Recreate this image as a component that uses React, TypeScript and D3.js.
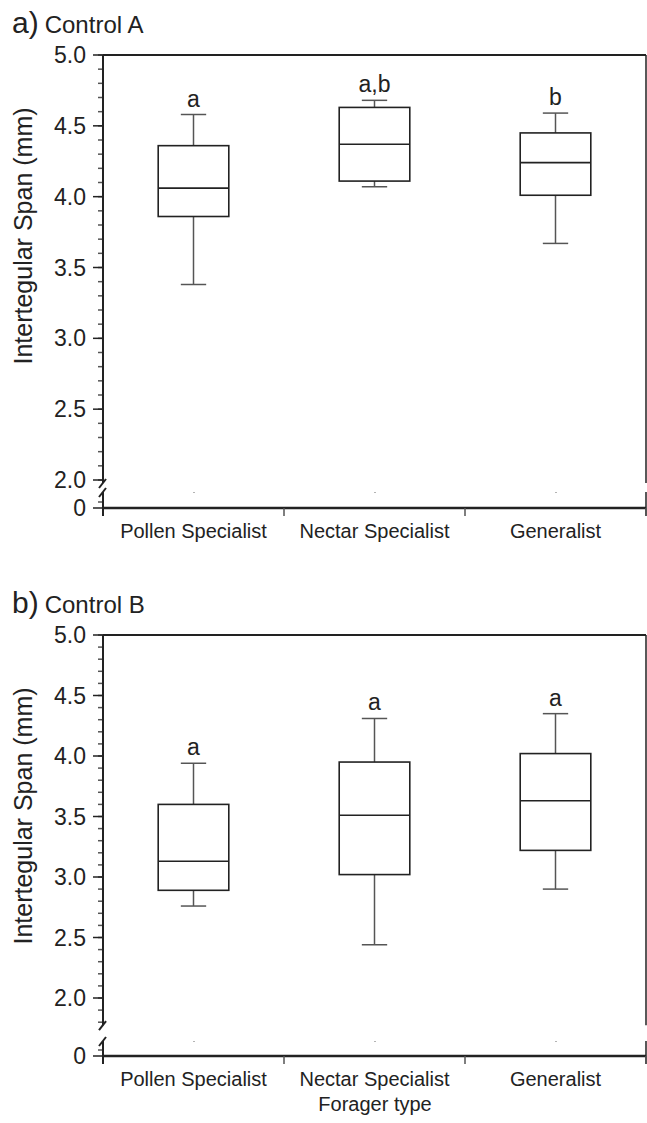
import React from "react";
import * as d3 from "d3";

const categories = ["Pollen Specialist", "Nectar Specialist", "Generalist"];

// [whiskerLow, q1, median, q3, whiskerHigh]
const controlA = [
  [3.38, 3.86, 4.06, 4.36, 4.58],
  [4.07, 4.11, 4.37, 4.63, 4.68],
  [3.67, 4.01, 4.24, 4.45, 4.59],
];
const controlB = [
  [2.76, 2.89, 3.13, 3.6, 3.94],
  [2.44, 3.02, 3.51, 3.95, 4.31],
  [2.9, 3.22, 3.63, 4.02, 4.35],
];
const lettersA = ["a", "a,b", "b"];
const lettersB = ["a", "a", "a"];

const majorTicks = [5.0, 4.5, 4.0, 3.5, 3.0, 2.5, 2.0];
const majorLabels = ["5.0", "4.5", "4.0", "3.5", "3.0", "2.5", "2.0"];

const FONT = "'Liberation Sans', Arial, Helvetica, sans-serif";
const LEFT = 103;
const RIGHT = 646;

type PanelProps = {
  tag: string;
  title: string;
  stats: number[][];
  letters: string[];
  top: number;
  two: number;
  mainMin: number;
  lowTop: number;
  zero: number;
};

function Panel({ tag, title, stats, letters, top, two, mainMin, lowTop, zero }: PanelProps) {
  const y = d3.scaleLinear().domain([2, 5]).range([two, top]);
  const x = d3.scaleBand().domain(categories).range([LEFT, RIGHT]).padding(0);
  const bw = x.bandwidth();
  const boxW = bw * 0.39;
  const capW = bw * 0.14;
  const minor = d3.range(Math.round(mainMin * 10), 51).map((d) => d / 10);
  const mainEnd = y(mainMin) + 3;
  const tickColor = "#555";
  const axisColor = "#222";

  return (
    <g>
      <text x={12} y={top - 22} fontFamily={FONT} fill="#222">
        <tspan fontSize={30}>{tag}</tspan>
        <tspan fontSize={24} dx={6}>{title}</tspan>
      </text>
      <text
        transform={`translate(32,${top + 181}) rotate(-90)`}
        textAnchor="middle"
        fontFamily={FONT}
        fontSize={25}
        fill="#222"
      >
        Intertegular Span (mm)
      </text>

      {/* minor ticks */}
      {minor.map((v) => (
        <line key={"m" + v} x1={LEFT - 5} x2={LEFT} y1={y(v)} y2={y(v)} stroke={tickColor} strokeWidth={1.5} />
      ))}
      {majorTicks.map((v, i) => (
        <g key={"M" + v}>
          <line x1={LEFT - 10} x2={LEFT} y1={y(v)} y2={y(v)} stroke={axisColor} strokeWidth={1.5} />
          <text x={LEFT - 17} y={y(v)} dy="0.35em" textAnchor="end" fontFamily={FONT} fontSize={23} fill="#222">
            {majorLabels[i]}
          </text>
        </g>
      ))}
      {/* zero segment ticks */}
      <line x1={LEFT - 5} x2={LEFT} y1={zero - 6} y2={zero - 6} stroke={tickColor} strokeWidth={1.5} />
      <line x1={LEFT - 10} x2={LEFT} y1={zero} y2={zero} stroke={axisColor} strokeWidth={1.5} />
      <text x={LEFT - 17} y={zero} dy="0.35em" textAnchor="end" fontFamily={FONT} fontSize={23} fill="#222">
        0
      </text>

      {/* left axis with break */}
      <line x1={LEFT} x2={LEFT} y1={top} y2={mainEnd} stroke={axisColor} strokeWidth={2} />
      <line x1={LEFT} x2={LEFT} y1={lowTop} y2={zero + 8} stroke={axisColor} strokeWidth={2} />
      <line x1={LEFT - 4} x2={LEFT + 3} y1={mainEnd + 5} y2={mainEnd - 4} stroke={axisColor} strokeWidth={2} />
      <line x1={LEFT - 4} x2={LEFT + 3} y1={lowTop + 5} y2={lowTop - 4} stroke={axisColor} strokeWidth={2} />

      {/* frame */}
      <line x1={LEFT} x2={RIGHT} y1={top} y2={top} stroke={axisColor} strokeWidth={2} />
      <line x1={RIGHT} x2={RIGHT} y1={top} y2={mainEnd} stroke={axisColor} strokeWidth={1.5} />
      <line x1={RIGHT} x2={RIGHT} y1={lowTop} y2={zero + 8} stroke={axisColor} strokeWidth={1.5} />
      <line x1={LEFT} x2={RIGHT} y1={zero} y2={zero} stroke={axisColor} strokeWidth={2.5} />

      {/* category ticks and labels */}
      {categories.map((c) => (
        <g key={c}>
          <line
            x1={(x(c) as number) + bw}
            x2={(x(c) as number) + bw}
            y1={zero}
            y2={zero + 8}
            stroke={tickColor}
            strokeWidth={1.5}
          />
          <text
            x={(x(c) as number) + bw / 2}
            y={zero + 30}
            textAnchor="middle"
            fontFamily={FONT}
            fontSize={20}
            fill="#222"
          >
            {c}
          </text>
          <rect x={(x(c) as number) + bw / 2} y={lowTop} width={1} height={1} fill="#666" />
        </g>
      ))}

      {/* boxes */}
      {stats.map((s, i) => {
        const cx = (x(categories[i]) as number) + bw / 2;
        const [lo, q1, med, q3, hi] = s;
        return (
          <g key={"b" + i}>
            <line x1={cx} x2={cx} y1={y(hi)} y2={y(q3)} stroke="#555" strokeWidth={1.5} />
            <line x1={cx} x2={cx} y1={y(q1)} y2={y(lo)} stroke="#555" strokeWidth={1.5} />
            <line x1={cx - capW / 2} x2={cx + capW / 2} y1={y(hi)} y2={y(hi)} stroke="#555" strokeWidth={1.5} />
            <line x1={cx - capW / 2} x2={cx + capW / 2} y1={y(lo)} y2={y(lo)} stroke="#555" strokeWidth={1.5} />
            <rect
              x={cx - boxW / 2}
              y={y(q3)}
              width={boxW}
              height={y(q1) - y(q3)}
              fill="none"
              stroke="#222"
              strokeWidth={1.6}
            />
            <line x1={cx - boxW / 2} x2={cx + boxW / 2} y1={y(med)} y2={y(med)} stroke="#222" strokeWidth={1.6} />
            <text x={cx} y={y(hi) - 8} textAnchor="middle" fontFamily={FONT} fontSize={23} fill="#222">
              {letters[i]}
            </text>
          </g>
        );
      })}
    </g>
  );
}

export default function App() {
  return (
    <svg
      width={647}
      height={1123}
      style={{ position: "absolute", left: 0, top: 0, display: "block" }}
    >
      <rect width={647} height={1123} fill="#fff" />
      <Panel
        tag="a)"
        title="Control A"
        stats={controlA}
        letters={lettersA}
        top={55}
        two={480}
        mainMin={2.0}
        lowTop={492}
        zero={508}
      />
      <Panel
        tag="b)"
        title="Control B"
        stats={controlB}
        letters={lettersB}
        top={635}
        two={998}
        mainMin={1.8}
        lowTop={1041}
        zero={1056}
      />
      <text x={375} y={1111} textAnchor="middle" fontFamily={FONT} fontSize={20} fill="#222">
        Forager type
      </text>
    </svg>
  );
}
